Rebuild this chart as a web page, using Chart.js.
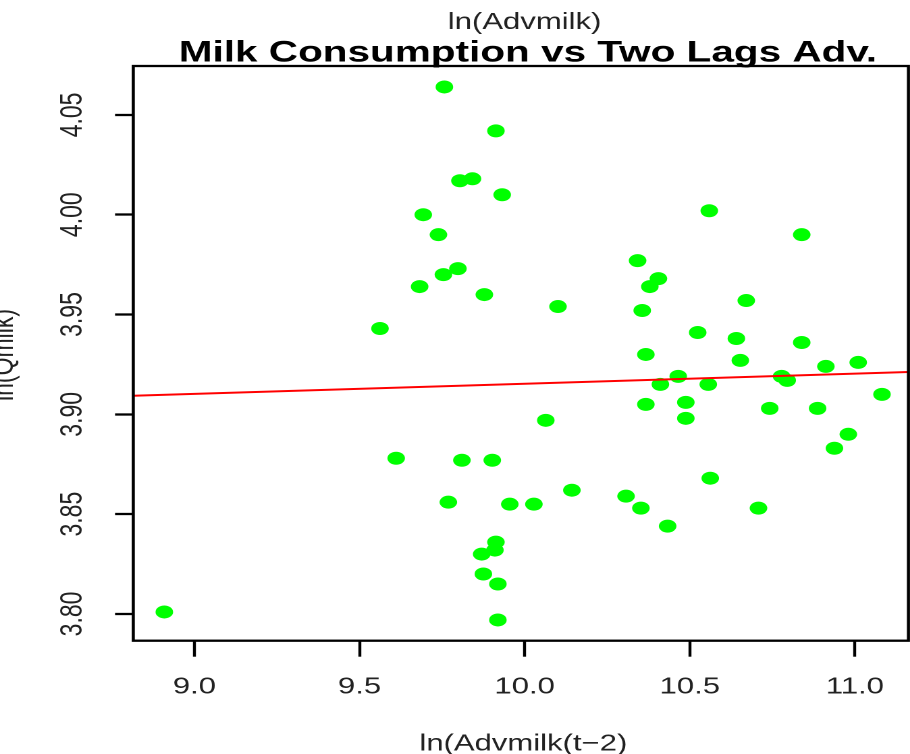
<!DOCTYPE html>
<html>
<head>
<meta charset="utf-8">
<title>Milk Consumption vs Two Lags Adv.</title>
<script src="https://cdn.jsdelivr.net/npm/chart.js@4"></script>
<style>
  html, body { margin: 0; padding: 0; background: #fff; overflow: hidden; width: 910px; height: 754px; }
  /* the plot is laid out on a narrower canvas and widened, giving the wide-ellipse look */
  #c { display: block; width: 674px; height: 754px; transform: scaleX(1.3502); transform-origin: 0 0; }
</style>
</head>
<body>
<canvas id="c" width="674" height="754"></canvas>
<script>
// ln(Advmilk) lagged two periods
const advLag2 = [
  9.757, 9.913, 9.804, 9.842, 9.932, 9.693, 9.739, 9.754, 9.798, 9.682,
  9.878, 9.562, 10.101, 9.611, 9.810, 9.902, 9.769, 9.955, 10.028, 10.064,
  10.143, 9.913, 9.910, 9.870, 9.875, 9.919, 9.919, 8.909,
  10.559, 10.839, 10.342, 10.405, 10.379, 10.671, 10.356, 10.524, 10.641, 10.839,
  10.367, 10.653, 11.010, 10.912, 10.465, 10.778, 10.795, 10.411, 10.556, 11.082,
  10.367, 10.488, 10.488, 10.742, 10.887, 10.980, 10.938, 10.562, 10.307, 10.352,
  10.433, 10.708
];
// ln(Qmilk)
const lnQmilk = [
  4.064, 4.042, 4.017, 4.018, 4.010, 4.000, 3.990, 3.970, 3.973, 3.964,
  3.960, 3.943, 3.954, 3.878, 3.877, 3.877, 3.856, 3.855, 3.855, 3.897,
  3.862, 3.836, 3.832, 3.830, 3.820, 3.815, 3.797, 3.801,
  4.002, 3.990, 3.977, 3.968, 3.964, 3.957, 3.952, 3.941, 3.938, 3.936,
  3.930, 3.927, 3.926, 3.924, 3.919, 3.919, 3.917, 3.915, 3.915, 3.910,
  3.905, 3.906, 3.898, 3.903, 3.903, 3.890, 3.883, 3.868, 3.859, 3.853,
  3.844, 3.853
];

// fitted line ln(Qmilk) = a + b * ln(Advmilk(t-2))
const fitIntercept = 3.8646;
const fitSlope = 0.00507;

const xRange = [8.815, 11.162];
const yRange = [3.7866, 4.0745];

const xTickValues = [9.0, 9.5, 10.0, 10.5, 11.0];
const xTickLabels = ['9.0', '9.5', '10.0', '10.5', '11.0'];
const yTickValues = [3.80, 3.85, 3.90, 3.95, 4.00, 4.05];
const yTickLabels = ['3.80', '3.85', '3.90', '3.95', '4.00', '4.05'];

const titleText = 'Milk Consumption vs Two Lags Adv.';
const topNote = 'ln(Advmilk)';
const xTitle = 'ln(Advmilk(t\u22122)';
const yTitle = 'ln(Qmilk)';

const FONT = '"Liberation Sans", Arial, sans-serif';

const points = advLag2.map((x, i) => ({ x, y: lnQmilk[i] }));
const fitLine = xRange.map(x => ({ x, y: fitIntercept + fitSlope * x }));

// box around the plot region plus titles
const framePlugin = {
  id: 'frame',
  afterDraw(chart) {
    const { ctx, chartArea: a } = chart;
    ctx.save();
    ctx.strokeStyle = '#000';
    ctx.lineWidth = 2.3;
    ctx.strokeRect(a.left, a.top, a.right - a.left, a.bottom - a.top);

    ctx.textAlign = 'center';
    ctx.textBaseline = 'alphabetic';
    ctx.fillStyle = '#000';
    ctx.font = 'bold 30px ' + FONT;
    ctx.fillText(titleText, 391, 61.5);

    ctx.fillStyle = '#222';
    ctx.font = '23px ' + FONT;
    ctx.fillText(topNote, 388.5, 29);
    ctx.fillText(xTitle, 387.6, 750.5);

    ctx.translate(9.5, 355);
    ctx.rotate(-Math.PI / 2);
    ctx.fillText(yTitle, 0, 0);
    ctx.restore();
  }
};

new Chart(document.getElementById('c'), {
  type: 'scatter',
  data: {
    datasets: [
      {
        label: 'fit',
        type: 'line',
        data: fitLine,
        borderColor: '#ff0000',
        borderWidth: 2,
        pointRadius: 0,
        showLine: true,
        fill: false,
        order: 0
      },
      {
        label: 'ln(Qmilk)',
        data: points,
        backgroundColor: '#00ff00',
        borderWidth: 0,
        pointRadius: 6.5,
        pointHoverRadius: 6.5,
        order: 1
      }
    ]
  },
  options: {
    responsive: false,
    animation: false,
    devicePixelRatio: 2,
    layout: { autoPadding: false, padding: { top: 66, left: 0, right: 1.2, bottom: 0 } },
    plugins: {
      legend: { display: false },
      tooltip: { enabled: false }
    },
    scales: {
      x: {
        type: 'linear',
        position: 'bottom',
        min: xRange[0],
        max: xRange[1],
        afterBuildTicks: s => { s.ticks = xTickValues.map(value => ({ value })); },
        afterFit: s => { s.height = 113.3; s.paddingLeft = 0; s.paddingRight = 0; },
        border: { display: false },
        grid: {
          drawOnChartArea: false,
          drawTicks: true,
          tickLength: 16,
          tickWidth: 2.2,
          tickColor: '#000'
        },
        ticks: {
          autoSkip: false,
          maxRotation: 0,
          padding: 16.5,
          color: '#222',
          font: { family: FONT, size: 23 },
          callback: (v, i) => xTickLabels[i]
        }
      },
      y: {
        type: 'linear',
        position: 'left',
        min: yRange[0],
        max: yRange[1],
        afterBuildTicks: s => { s.ticks = yTickValues.map(value => ({ value })); },
        afterFit: s => { s.width = 98.7; s.paddingTop = 0; s.paddingBottom = 0; },
        border: { display: false },
        grid: {
          drawOnChartArea: false,
          drawTicks: true,
          tickLength: 13.5,
          tickWidth: 2.3,
          tickColor: '#000'
        },
        ticks: {
          autoSkip: false,
          minRotation: 90,
          maxRotation: 90,
          crossAlign: 'center',
          padding: 8.5,
          color: '#222',
          font: { family: FONT, size: 23 },
          callback: (v, i) => yTickLabels[i]
        }
      }
    }
  },
  plugins: [framePlugin]
});
</script>
</body>
</html>
